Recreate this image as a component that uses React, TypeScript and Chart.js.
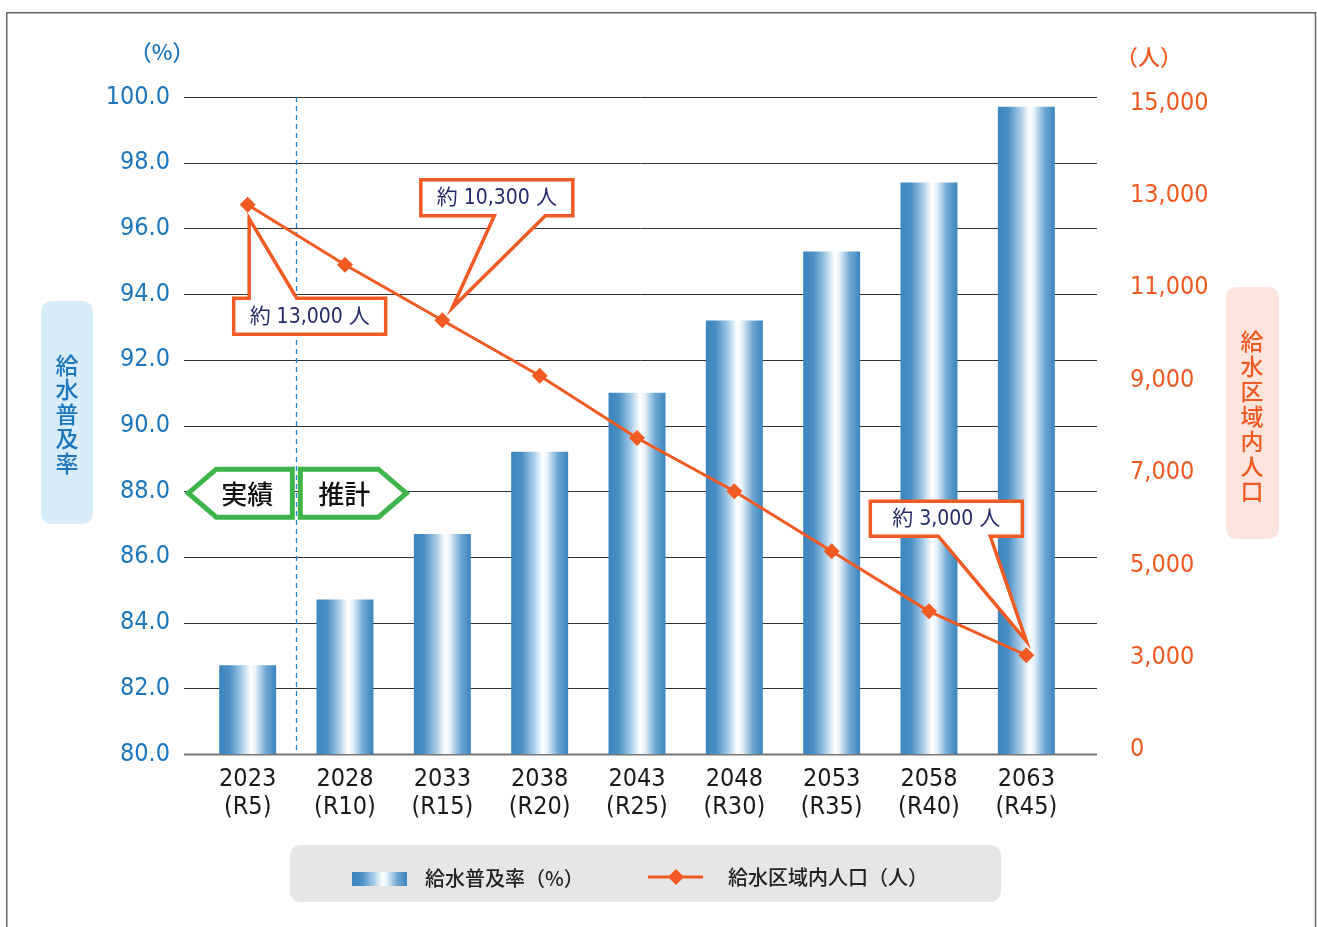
import { useEffect, useRef } from "react";
import { Chart, registerables } from "chart.js";

Chart.register(...registerables);

// ---------- data ----------
const categories = ["2023", "2028", "2033", "2038", "2043", "2048", "2053", "2058", "2063"];
const eraLabels = ["(R5)", "(R10)", "(R15)", "(R20)", "(R25)", "(R30)", "(R35)", "(R40)", "(R45)"];
const coverageRate = [82.7, 84.7, 86.7, 89.2, 91.0, 93.2, 95.3, 97.4, 99.7];
const population = [12800, 11500, 10300, 9100, 7750, 6600, 5300, 4000, 3050];

const rateTicks = [80, 82, 84, 86, 88, 90, 92, 94, 96, 98, 100];
const rateTickLabels = ["80.0", "82.0", "84.0", "86.0", "88.0", "90.0", "92.0", "94.0", "96.0", "98.0", "100.0"];
const popTicks = [1000, 3000, 5000, 7000, 9000, 11000, 13000, 15000];
const popTickLabels = ["0", "3,000", "5,000", "7,000", "9,000", "11,000", "13,000", "15,000"];

const rateSeriesName = "給水普及率（%）";
const popSeriesName = "給水区域内人口（人）";
const rateAxisTitle = "給水普及率";
const popAxisTitle = "給水区域内人口";
const rateUnit = "（%）";
const popUnit = "（人）";
const phaseLabels = ["実績", "推計"];
const calloutIndexes = [0, 2, 8];
const calloutTexts = ["約 13,000 人", "約 10,300 人", "約 3,000 人"];

// ---------- style ----------
const FONT_NUM = "'Liberation Sans Narrow', 'DejaVu Sans Condensed', 'Noto Sans CJK JP', sans-serif";
const FONT_JP = "'Noto Sans CJK JP', sans-serif";
const BLUE_TXT = "#1b76bd";
const ORANGE = "#f15a22";
const GREEN = "#3db54a";
const NAVY = "#262b6c";
const BAR_PCT = 0.585;

function addBarStops(g: CanvasGradient) {
  g.addColorStop(0, "#3b84bd");
  g.addColorStop(0.18, "#4a8fc5");
  g.addColorStop(0.4, "#a9cde8");
  g.addColorStop(0.55, "#ffffff");
  g.addColorStop(0.63, "#eaf3fa");
  g.addColorStop(0.82, "#6fa8d4");
  g.addColorStop(1, "#3b84bd");
}

function roundRect(ctx: CanvasRenderingContext2D, x: number, y: number, w: number, h: number, r: number) {
  ctx.beginPath();
  ctx.moveTo(x + r, y);
  ctx.lineTo(x + w - r, y);
  ctx.quadraticCurveTo(x + w, y, x + w, y + r);
  ctx.lineTo(x + w, y + h - r);
  ctx.quadraticCurveTo(x + w, y + h, x + w - r, y + h);
  ctx.lineTo(x + r, y + h);
  ctx.quadraticCurveTo(x, y + h, x, y + h - r);
  ctx.lineTo(x, y + r);
  ctx.quadraticCurveTo(x, y, x + r, y);
  ctx.closePath();
}

type Geo = { l: number; t: number; w: number; h: number; b1: number; b2: number; tx: number; ty: number; edge: "top" | "bottom" };

function calloutGeometry(k: number, px: number, py: number): Geo {
  if (k === 0) return { l: px - 14, t: py + 93.5, w: 152, h: 36, b1: px + 1.5, b2: px + 49, tx: px + 1.5, ty: py + 14, edge: "top" };
  if (k === 1) return { l: px - 21.5, t: py - 140.5, w: 152, h: 36, b1: px + 52, b2: px + 103, tx: px + 10, ty: py - 12.5, edge: "bottom" };
  return { l: px - 156, t: py - 154, w: 152, h: 35, b1: px - 88, b2: px - 36, tx: px, ty: py - 14, edge: "bottom" };
}

const decorPlugin = {
  id: "decor",
  beforeDraw(chart: any) {
    const ctx: CanvasRenderingContext2D = chart.ctx;
    ctx.save();
    ctx.fillStyle = "#ffffff";
    ctx.fillRect(0, 0, chart.width, chart.height);
    // frame
    ctx.strokeStyle = "#666";
    ctx.lineWidth = 1.5;
    ctx.beginPath();
    ctx.moveTo(6.75, chart.height + 2);
    ctx.lineTo(6.75, 12.75);
    ctx.lineTo(1315.5, 12.75);
    ctx.lineTo(1315.5, chart.height + 2);
    ctx.stroke();

    // axis title boxes
    roundRect(ctx, 41, 301, 52, 223, 12);
    ctx.fillStyle = "#d7ebf9";
    ctx.fill();
    roundRect(ctx, 1226, 287, 53, 252, 12);
    ctx.fillStyle = "#fde5de";
    ctx.fill();

    ctx.textAlign = "center";
    ctx.textBaseline = "middle";
    ctx.font = `500 23px ${FONT_JP}`;
    ctx.fillStyle = BLUE_TXT;
    Array.from(rateAxisTitle).forEach((ch, i) => ctx.fillText(ch, 67, 365 + i * 24.5));
    ctx.fillStyle = ORANGE;
    Array.from(popAxisTitle).forEach((ch, i) => ctx.fillText(ch, 1252, 341 + i * 25));

    // units
    ctx.font = `500 22px ${FONT_JP}`;
    ctx.fillStyle = BLUE_TXT;
    ctx.fillText(rateUnit, 162, 52);
    ctx.fillStyle = ORANGE;
    ctx.fillText(popUnit, 1149, 57);
    ctx.restore();
  },
  beforeDatasetsDraw(chart: any) {
    const ctx: CanvasRenderingContext2D = chart.ctx;
    const ys = chart.scales.y;
    const xs = chart.scales.x;
    const area = chart.chartArea;
    ctx.save();
    rateTicks.forEach((v, i) => {
      const y = Math.round(ys.getPixelForValue(v)) + 0.5;
      ctx.strokeStyle = i === 0 ? "#777" : "#333";
      ctx.lineWidth = i === 0 ? 2 : 1;
      ctx.beginPath();
      ctx.moveTo(area.left - 15, y);
      ctx.lineTo(area.right + 22, y);
      ctx.stroke();
    });
    const dx = Math.round((xs.getPixelForValue(0) + xs.getPixelForValue(1)) / 2) + 0.5;
    ctx.strokeStyle = "#1f86d0";
    ctx.lineWidth = 1.3;
    ctx.setLineDash([5, 4]);
    ctx.beginPath();
    ctx.moveTo(dx, area.top);
    ctx.lineTo(dx, area.bottom);
    ctx.stroke();
    ctx.restore();
  },
  afterDatasetsDraw(chart: any) {
    const ctx: CanvasRenderingContext2D = chart.ctx;
    const ys = chart.scales.y;
    const y1 = chart.scales.y1;
    const xs = chart.scales.x;
    ctx.save();

    // phase markers
    const dx = (xs.getPixelForValue(0) + xs.getPixelForValue(1)) / 2;
    const yc = ys.getPixelForValue(88) + 2;
    const h = 24;
    ctx.lineWidth = 5;
    ctx.lineJoin = "miter";
    ctx.strokeStyle = GREEN;
    ctx.fillStyle = "#ffffff";
    ctx.beginPath();
    ctx.moveTo(dx - 4, yc - h);
    ctx.lineTo(dx - 80, yc - h);
    ctx.lineTo(dx - 108, yc);
    ctx.lineTo(dx - 80, yc + h);
    ctx.lineTo(dx - 4, yc + h);
    ctx.closePath();
    ctx.fill();
    ctx.stroke();
    ctx.beginPath();
    ctx.moveTo(dx + 4, yc - h);
    ctx.lineTo(dx + 82, yc - h);
    ctx.lineTo(dx + 110, yc);
    ctx.lineTo(dx + 82, yc + h);
    ctx.lineTo(dx + 4, yc + h);
    ctx.closePath();
    ctx.fill();
    ctx.stroke();
    ctx.fillStyle = "#111";
    ctx.font = `500 26px ${FONT_JP}`;
    ctx.textAlign = "center";
    ctx.textBaseline = "middle";
    ctx.fillText(phaseLabels[0], dx - 49, yc + 1);
    ctx.fillText(phaseLabels[1], dx + 48, yc + 1);

    // callouts
    calloutIndexes.forEach((idx, k) => {
      const px = xs.getPixelForValue(idx);
      const py = y1.getPixelForValue(population[idx]);
      const g = calloutGeometry(k, px, py);
      ctx.beginPath();
      if (g.edge === "top") {
        ctx.moveTo(g.l, g.t);
        ctx.lineTo(g.b1, g.t);
        ctx.lineTo(g.tx, g.ty);
        ctx.lineTo(g.b2, g.t);
        ctx.lineTo(g.l + g.w, g.t);
        ctx.lineTo(g.l + g.w, g.t + g.h);
        ctx.lineTo(g.l, g.t + g.h);
      } else {
        ctx.moveTo(g.l, g.t);
        ctx.lineTo(g.l + g.w, g.t);
        ctx.lineTo(g.l + g.w, g.t + g.h);
        ctx.lineTo(g.b2, g.t + g.h);
        ctx.lineTo(g.tx, g.ty);
        ctx.lineTo(g.b1, g.t + g.h);
        ctx.lineTo(g.l, g.t + g.h);
      }
      ctx.closePath();
      ctx.fillStyle = "#ffffff";
      ctx.fill();
      ctx.strokeStyle = ORANGE;
      ctx.lineWidth = 3.5;
      ctx.stroke();
      ctx.fillStyle = NAVY;
      ctx.font = `21px ${FONT_NUM}`;
      ctx.textAlign = "center";
      ctx.textBaseline = "middle";
      ctx.fillText(calloutTexts[k], g.l + g.w / 2, g.t + g.h / 2 + 1);
    });
    ctx.restore();
  },
  afterDraw(chart: any) {
    const ctx: CanvasRenderingContext2D = chart.ctx;
    ctx.save();
    roundRect(ctx, 290, 845, 711, 57, 12);
    ctx.fillStyle = "#e6e6e6";
    ctx.fill();
    // bar swatch
    const g = ctx.createLinearGradient(352, 0, 407, 0);
    addBarStops(g);
    ctx.fillStyle = g;
    ctx.fillRect(352, 872, 55, 14);
    ctx.fillStyle = "#222";
    ctx.font = `500 20px ${FONT_JP}`;
    ctx.textAlign = "left";
    ctx.textBaseline = "middle";
    ctx.fillText(chart.data.datasets[0].label, 425, 878);
    // line swatch
    ctx.strokeStyle = ORANGE;
    ctx.lineWidth = 3;
    ctx.beginPath();
    ctx.moveTo(648, 877);
    ctx.lineTo(703, 877);
    ctx.stroke();
    ctx.fillStyle = ORANGE;
    ctx.beginPath();
    ctx.moveTo(676, 869);
    ctx.lineTo(684, 877);
    ctx.lineTo(676, 885);
    ctx.lineTo(668, 877);
    ctx.closePath();
    ctx.fill();
    ctx.fillStyle = "#222";
    ctx.fillText(chart.data.datasets[1].label, 728, 877);
    ctx.restore();
  },
};

export default function App() {
  const canvasRef = useRef<HTMLCanvasElement | null>(null);

  useEffect(() => {
    const canvas = canvasRef.current;
    if (!canvas) return;
    const chart = new Chart(canvas, {
      type: "bar",
      data: {
        labels: categories,
        datasets: [
          {
            type: "bar",
            label: rateSeriesName,
            data: coverageRate,
            yAxisID: "y",
            order: 1,
            categoryPercentage: 1,
            barPercentage: BAR_PCT,
            borderWidth: 0,
            backgroundColor: (c: any) => {
              const ch = c.chart;
              const xs = ch.scales?.x;
              if (!xs || !ch.chartArea || c.dataIndex === undefined) return "#3b84bd";
              const cx = xs.getPixelForValue(c.dataIndex);
              const w = (xs.width / categories.length) * BAR_PCT;
              const g = ch.ctx.createLinearGradient(cx - w / 2, 0, cx + w / 2, 0);
              addBarStops(g);
              return g;
            },
          } as any,
          {
            type: "line",
            label: popSeriesName,
            data: population,
            yAxisID: "y1",
            order: 0,
            borderColor: ORANGE,
            borderWidth: 3,
            backgroundColor: ORANGE,
            pointStyle: "rectRot",
            pointRadius: 8,
            pointBackgroundColor: ORANGE,
            pointBorderWidth: 0,
            tension: 0,
          } as any,
        ],
      },
      options: {
        responsive: false,
        animation: false,
        events: [],
        layout: { padding: { top: 97, left: 0, right: 0, bottom: 0 } },
        plugins: { legend: { display: false }, tooltip: { enabled: false } },
        scales: {
          x: {
            offset: true,
            grid: { display: false, drawTicks: false },
            border: { display: false },
            ticks: {
              autoSkip: false,
              maxRotation: 0,
              color: "#1a1a1a",
              padding: 12,
              font: { family: FONT_NUM, size: 25, lineHeight: 1.1 },
              callback: (_v: any, i: number) => [categories[i], eraLabels[i]],
            },
            afterFit: (s: any) => {
              s.height = 173;
            },
          },
          y: {
            position: "left",
            min: 80,
            max: 100,
            grid: { display: false, drawTicks: false },
            border: { display: false },
            afterBuildTicks: (s: any) => {
              s.ticks = rateTicks.map((v) => ({ value: v }));
            },
            ticks: {
              color: BLUE_TXT,
              padding: 29,
              font: { family: FONT_NUM, size: 25 },
              callback: (v: any) => rateTickLabels[rateTicks.indexOf(Number(v))],
            },
            afterFit: (s: any) => {
              s.width = 199;
            },
          },
          y1: {
            position: "right",
            min: 913,
            max: 15130,
            grid: { display: false, drawTicks: false },
            border: { display: false },
            afterBuildTicks: (s: any) => {
              s.ticks = popTicks.map((v) => ({ value: v }));
            },
            ticks: {
              color: ORANGE,
              padding: 55,
              font: { family: FONT_NUM, size: 25 },
              callback: (v: any) => popTickLabels[popTicks.indexOf(Number(v))],
            },
            afterFit: (s: any) => {
              s.width = 242;
            },
          },
        },
      } as any,
      plugins: [decorPlugin as any],
    });
    return () => chart.destroy();
  }, []);

  return (
    <div style={{ position: "absolute", left: 0, top: 0, width: 1317, height: 927, overflow: "hidden" }}>
      <canvas ref={canvasRef} width={1317} height={927} style={{ display: "block", width: 1317, height: 927 }} />
    </div>
  );
}
